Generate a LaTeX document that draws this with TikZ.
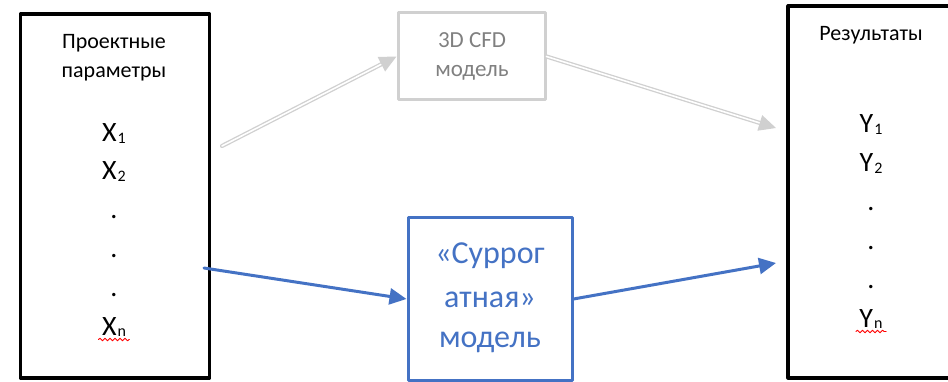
\documentclass[tikz,border=0pt]{standalone}
\usepackage{fontspec}
\setmainfont{Carlito}
\usepackage{tikz}
\usetikzlibrary{arrows.meta}
\usetikzlibrary{positioning}
\usetikzlibrary{decorations.pathmorphing}
\definecolor{surblue}{HTML}{4472C4}
\definecolor{cfdgray}{HTML}{D0D0D0}
\definecolor{cfdtext}{HTML}{808080}
\newcommand{\lowidx}[1]{\kern1pt\raisebox{-1.5pt}{\fontsize{16}{18}\selectfont #1}}
\tikzset{
  mainbox/.style={draw=black,line width=3.2pt,inner sep=0pt},
  cfdbox/.style={draw=cfdgray,line width=3pt,inner sep=0pt},
  surbox/.style={draw=surblue,line width=3pt,inner sep=0pt},
  cfdarrow/.style={->,draw=cfdgray,line width=1.3pt,double=white,double distance=1.6pt},
  surarrow/.style={->,draw=surblue,line width=3pt},
  spell/.style={draw=red,line width=0.9pt,decorate,decoration={snake,segment length=5pt,amplitude=1.3pt}}
}
\begin{document}
\begin{tikzpicture}[line cap=round,line join=round,>={Triangle[length=17pt,width=16pt]},x=1pt,y=-1pt]
\useasboundingbox (0,0) rectangle (948,382);
\clip (0,0) rectangle (948,382);
% boxes
\node[mainbox,minimum width=189pt,minimum height=364pt] (params) at (115,196) {};
\node[mainbox,minimum width=167pt,minimum height=372pt] (results) at (871.5,192) {};
\node[cfdbox,minimum width=147pt,minimum height=87pt] (cfd) at (471.5,56.5) {};
\node[surbox,minimum width=164pt,minimum height=162pt] (sur) at (490,299) {};
% left box texts
\node[anchor=base,font=\fontsize{22}{26}\selectfont] (ptitle1) at (114,49) {Проектные};
\node[anchor=base,font=\fontsize{22}{26}\selectfont] (ptitle2) at (114,78) {параметры};
\foreach \t/\y/\n in {X\lowidx{1}/142/x1,X\lowidx{2}/180/x2,./219/xd1,./258/xd2,./296/xd3,X\lowidx{n}/335/xn}
\node[anchor=base,font=\fontsize{28}{32}\selectfont] (\n) at (114,\y) {\t};
% right box texts
\node[anchor=base,font=\fontsize{22}{26}\selectfont] (rtitle) at (871,41) {Результаты};
\foreach \t/\y/\n in {Y\lowidx{1}/133/y1,Y\lowidx{2}/172/y2,./211/yd1,./250/yd2,./288/yd3,Y\lowidx{n}/327/yn}
\node[anchor=base,font=\fontsize{28}{32}\selectfont] (\n) at (871,\y) {\t};
% model texts
\node[anchor=base,text=cfdtext,font=\fontsize{23}{26}\selectfont] (cfd1) at (472,48) {3D CFD};
\node[anchor=base,text=cfdtext,font=\fontsize{23}{26}\selectfont] (cfd2) at (472,77) {модель};
\node[anchor=base,text=surblue,font=\fontsize{32}{36}\selectfont] (sur1) at (490,263) {«Суррог};
\node[anchor=base,text=surblue,font=\fontsize{32}{36}\selectfont] (sur2) at (490,307) {атная»};
\node[anchor=base,text=surblue,font=\fontsize{32}{36}\selectfont] (sur3) at (490,347) {модель};
% spell-check marks
\draw[spell] ([yshift=-4.5pt]xn.base west) -- ([yshift=-4.5pt]xn.base east);
\draw[spell] ([yshift=-4.5pt]yn.base west) -- ([yshift=-4.5pt]yn.base east);
% connectors
\coordinate (cfdin) at (222,146);
\coordinate (cfdend) at (776,128);
\coordinate (surin) at (204,268);
\coordinate (surend) at (776,263);
\draw[cfdarrow] (cfdin) -- (cfd.west);
\draw[cfdarrow] (cfd.east) -- (cfdend);
\draw[surarrow] (surin) -- (sur.west);
\draw[surarrow] (sur.east) -- (surend);
\end{tikzpicture}
\end{document}
